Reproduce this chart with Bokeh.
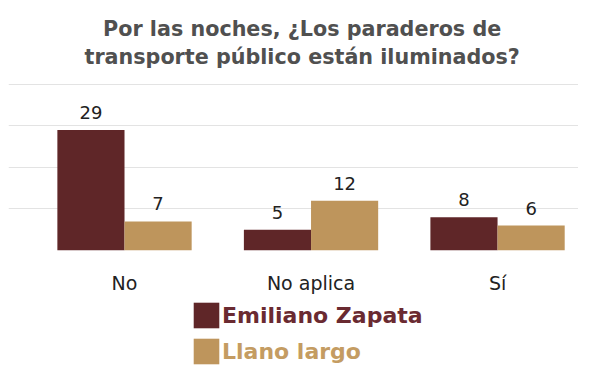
import numpy as np
from bokeh.plotting import figure
from bokeh.layouts import column
from bokeh.core.properties import value
from bokeh.models import (ColumnDataSource, Range1d, LabelSet, Legend, LegendItem,
                          Title, FixedTicker, SingleIntervalTicker)
from bokeh.transform import dodge
from bokeh.embed import file_html
from bokeh.resources import INLINE

categories = ["No", "No aplica", "Sí"]
emiliano_zapata = [29, 5, 8]
llano_largo = [7, 12, 6]
series_names = ["Emiliano Zapata", "Llano largo"]
title_lines = ["Por las noches, ¿Los paraderos de", "transporte público están iluminados?"]

DARK = "#5f2628"
GOLD = "#be955c"
DARK_TXT = "#6a2a31"
GOLD_TXT = "#c49c62"
FONT = "DejaVu Sans"

idx = np.arange(len(categories))
src = ColumnDataSource(dict(
    x=idx,
    ez=emiliano_zapata,
    ll=llano_largo,
    ez_txt=[str(v) for v in emiliano_zapata],
    ll_txt=[str(v) for v in llano_largo],
))

p = figure(width=578, height=296, output_backend="svg", toolbar_location=None,
           x_range=Range1d(-0.622, 2.434), y_range=Range1d(0, 40.2),
           min_border_left=8, min_border_right=0, min_border_top=83, min_border_bottom=44)
p.outline_line_color = None

bw = 0.36
r1 = p.vbar(x=dodge("x", -bw / 2, range=p.x_range), top="ez", width=bw, source=src,
            fill_color=DARK, line_color=None)
r2 = p.vbar(x=dodge("x", bw / 2, range=p.x_range), top="ll", width=bw, source=src,
            fill_color=GOLD, line_color=None)

for col, txt, off in (("ez", "ez_txt", -bw / 2), ("ll", "ll_txt", bw / 2)):
    p.add_layout(LabelSet(x=dodge("x", off, range=p.x_range), y=col, text=txt, source=src,
                          text_align="center", text_baseline="alphabetic", y_offset=11,
                          text_font=value(FONT), text_font_size="18px", text_color="#222222"))

p.yaxis.visible = False
p.ygrid.ticker = SingleIntervalTicker(interval=10)
p.ygrid.grid_line_color = "#e3e3e3"
p.ygrid.grid_line_width = 1
p.xgrid.visible = False

p.xaxis.ticker = FixedTicker(ticks=list(idx))
p.xaxis.major_label_overrides = {int(i): c for i, c in zip(idx, categories)}
p.xaxis.axis_line_color = None
p.xaxis.major_tick_line_color = None
p.xaxis.minor_tick_line_color = None
p.xaxis.major_label_standoff = 15
p.xaxis.major_label_text_font = FONT
p.xaxis.major_label_text_font_size = "19px"
p.xaxis.major_label_text_color = "#222222"

p.add_layout(Title(text="\n".join(title_lines), align="left", text_align="center",
                   text_font=FONT, text_font_size="20.7px", text_line_height=1.2, offset=76,
                   text_font_style="bold", text_color="#505050", standoff=28), "above")

# legend panel: hidden copies of the series renderers, only their legend entries show
leg = figure(width=578, height=72, output_backend="svg", toolbar_location=None,
             x_range=Range1d(-0.622, 2.434), y_range=Range1d(0, 40.2),
             min_border_left=8, min_border_right=0, min_border_top=0, min_border_bottom=0)
leg.outline_line_color = None
leg.axis.visible = False
leg.grid.visible = False
lr1 = leg.vbar(x="x", top="ez", width=bw, source=src, fill_color=DARK, line_color=None, visible=False)
lr2 = leg.vbar(x="x", top="ll", width=bw, source=src, fill_color=GOLD, line_color=None, visible=False)

for r, name, col, yloc in ((lr1, series_names[0], DARK_TXT, 37), (lr2, series_names[1], GOLD_TXT, 1)):
    lg = Legend(items=[LegendItem(label=name, renderers=[r], index=0)], location=(182, yloc),
                orientation="horizontal", glyph_width=32, glyph_height=32,
                label_standoff=0, padding=0, margin=0, spacing=0,
                border_line_color=None, background_fill_alpha=0,
                label_text_font=FONT, label_text_font_size="22px",
                label_text_font_style="bold", label_text_color=col)
    leg.add_layout(lg, "center")

open("out.html", "w").write(file_html(column(p, leg, spacing=0), INLINE))
